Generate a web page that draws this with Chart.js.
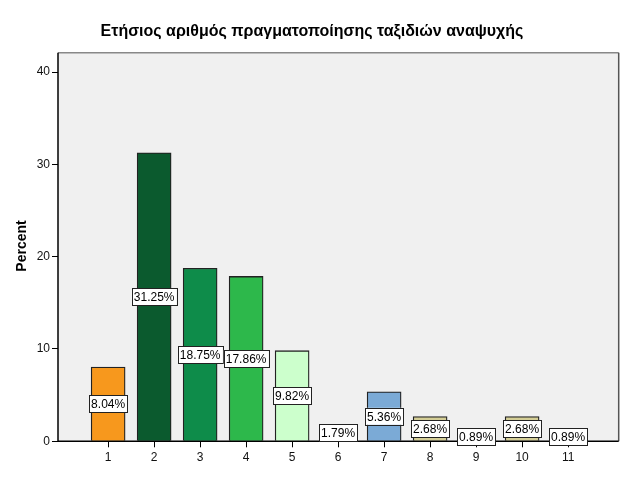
<!DOCTYPE html>
<html><head><meta charset="utf-8">
<script src="https://cdn.jsdelivr.net/npm/chart.js@4/dist/chart.umd.min.js"></script>
<style>html,body{margin:0;padding:0;background:#fff}#wrap{width:626px;height:501px}</style>
</head><body><div id="wrap"><canvas id="c" width="626" height="501"></canvas></div>
<script>
const titleText = 'Ετήσιος αριθμός πραγματοποίησης ταξιδιών αναψυχής';
const yTitle = 'Percent';
const categories = [1, 2, 3, 4, 5, 6, 7, 8, 9, 10, 11];
const percents = [8.04, 31.25, 18.75, 17.86, 9.82, 1.79, 5.36, 2.68, 0.89, 2.68, 0.89];
const labels = ['8.04%', '31.25%', '18.75%', '17.86%', '9.82%', '1.79%', '5.36%', '2.68%', '0.89%', '2.68%', '0.89%'];
const barColors = ['#F7981D', '#0B5A2E', '#0E8C4A', '#2DB84B', '#CCFFCC', '#D9D9D9', '#7BAAD6', '#D4CE96', '#E8E0F0', '#D4CE96', '#F5D0C8'];
const yTicks = [0, 10, 20, 30, 40];

const framePlugin = {
  id: 'frame',
  beforeDraw(chart) {
    const {ctx, chartArea: a} = chart;
    ctx.save();
    ctx.fillStyle = '#F0F0F0';
    ctx.fillRect(a.left, a.top, a.right - a.left, a.bottom - a.top);
    ctx.restore();
  },
  afterDatasetsDraw(chart) {
    const {ctx, chartArea: a} = chart;
    ctx.save();
    ctx.lineWidth = 1.5;
    ctx.strokeStyle = '#888888';
    ctx.beginPath(); ctx.moveTo(a.left, a.top); ctx.lineTo(a.right, a.top); ctx.stroke();
    ctx.strokeStyle = '#555555';
    ctx.beginPath(); ctx.moveTo(a.right, a.top); ctx.lineTo(a.right, a.bottom); ctx.stroke();
    ctx.strokeStyle = '#000';
    ctx.beginPath(); ctx.moveTo(a.left, a.top); ctx.lineTo(a.left, a.bottom); ctx.lineTo(a.right, a.bottom); ctx.stroke();
    // value labels
    const meta = chart.getDatasetMeta(0);
    ctx.font = '12px Arial, "Liberation Sans", sans-serif';
    ctx.textAlign = 'center';
    ctx.textBaseline = 'middle';
    meta.data.forEach((bar, i) => {
      const cy = (bar.y + bar.base) / 2;
      const t = labels[i];
      const w = ctx.measureText(t).width + 4;
      const h = 17;
      ctx.fillStyle = '#fff';
      ctx.fillRect(bar.x - w / 2, cy - h / 2, w, h);
      ctx.strokeStyle = '#222';
      ctx.lineWidth = 1;
      ctx.strokeRect(Math.round(bar.x - w / 2) + 0.5, Math.round(cy - h / 2) + 0.5, Math.round(w), h);
      ctx.fillStyle = '#000';
      ctx.fillText(t, bar.x, cy + 1);
    });
    // titles
    ctx.font = 'bold 16px Arial, "Liberation Sans", sans-serif';
    ctx.fillStyle = '#000';
    ctx.fillText(titleText, 312, 32);
    ctx.save();
    ctx.translate(22, 246);
    ctx.rotate(-Math.PI / 2);
    ctx.font = 'bold 14px Arial, "Liberation Sans", sans-serif';
    ctx.fillText(yTitle, 0, 0);
    ctx.restore();
    ctx.restore();
  }
};

new Chart(document.getElementById('c'), {
  type: 'bar',
  data: {
    datasets: [{
      data: categories.map((c, i) => ({x: c, y: percents[i]})),
      backgroundColor: barColors,
      borderColor: '#222',
      borderWidth: 1.3,
      barThickness: 34
    }]
  },
  options: {
    responsive: false,
    animation: false,
    devicePixelRatio: 1,
    layout: {padding: {top: 52.7, right: 7.3, left: 0, bottom: 0}},
    plugins: {legend: {display: false}, tooltip: {enabled: false}, title: {display: false}},
    scales: {
      x: {
        type: 'linear',
        offset: false,
        min: -0.09, max: 12.1,
        afterBuildTicks(s) { s.ticks = categories.map(v => ({value: v})); },
        afterFit(s) { s.height = 501 - 441.3; },
        ticks: {font: {size: 12, family: 'Arial'}, color: '#111', padding: 3, autoSkip: false, maxRotation: 0},
        grid: {drawOnChartArea: false, offset: false, tickLength: 6, color: '#000'},
        border: {display: false}
      },
      y: {
        min: 0, max: 42.1,
        afterBuildTicks(s) { s.ticks = yTicks.map(v => ({value: v})); },
        afterFit(s) { s.width = 58; },
        ticks: {font: {size: 12, family: 'Arial'}, color: '#111', padding: 2},
        grid: {drawOnChartArea: false, tickLength: 6, color: '#000'},
        border: {display: false}
      }
    }
  },
  plugins: [framePlugin]
});
</script></body></html>
